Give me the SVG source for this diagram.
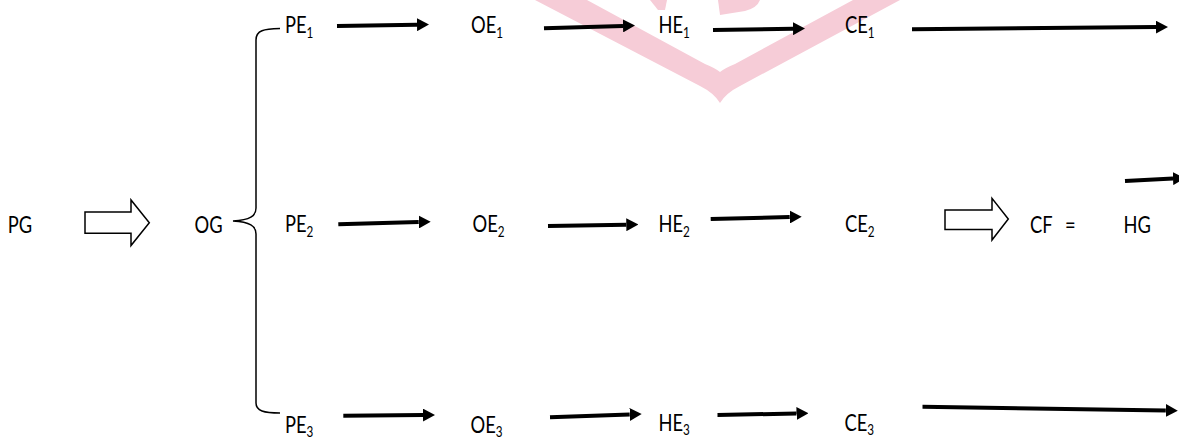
<svg xmlns="http://www.w3.org/2000/svg" width="1179" height="438" viewBox="0 0 1179 438">
<style>
.t{font-family:Lato,"Open Sans","Liberation Sans",sans-serif;font-size:23.5px;fill:#000}
.sub{font-size:15px}
.ln{stroke:#000;stroke-width:4;fill:none;marker-end:url(#ah)}
.hollow{fill:#fff;stroke:#000;stroke-width:1.5;stroke-linejoin:miter}
.brace{fill:none;stroke:#000;stroke-width:1.5}
.wm{fill:#F6CCD7}
</style>
<defs>
<marker id="ah" markerUnits="userSpaceOnUse" viewBox="0 0 12 13" markerWidth="12" markerHeight="13" refX="0" refY="6.5" orient="auto">
<path d="M0,0 L12,6.5 L0,13 Z" fill="#000"/>
</marker>
</defs>
<rect width="1179" height="438" fill="#fff"/>
<g id="watermark">
<path class="wm" d="M535,0 L700,86 Q714,93 720,103 Q726,93 740,86 L900,0 L853,0 L735,64 Q725,68 720,72 Q715,68 705,64 L587,0 Z"/>
<path class="wm" d="M650,0 L667,0 L665,10 L658,10 Z"/>
<path class="wm" d="M718,0 H760 Q757,8 745,11 L720,15 Z"/>
</g>
<g id="connectors">
<path class="ln" d="M337,26 L417,24.7"/>
<path class="ln" d="M544,28.3 L623,25.9"/>
<path class="ln" d="M713,30 L793,28.7"/>
<path class="ln" d="M912,29.3 L1156,27.1"/>
<path class="ln" d="M338.3,224.3 L418.7,222"/>
<path class="ln" d="M548,226 L626.3,224.7"/>
<path class="ln" d="M710.7,219 L789.7,217"/>
<path class="ln" d="M1125,181 L1173,178.6"/>
<path class="ln" d="M343.3,415.7 L423,415.1"/>
<path class="ln" d="M550,417.3 L629.7,414.4"/>
<path class="ln" d="M717.5,415 L796.5,413.5"/>
<path class="ln" d="M922.5,406.7 L1165.8,410.5"/>
<path class="hollow" d="M85,212 H131 V200 L149.3,222.7 L131,245.5 V233.3 H85 Z"/>
<path class="hollow" d="M945,210 H992 V198.3 L1008.3,219 L992,240 V229.5 H945 Z"/>
<path class="brace" d="M280,28.5 C264,29 256,30 256,40 V208 C256,216 250,220 233,221 C250,222 256,226 256,234 V403 C256,411 264,413 280,413"/>
</g>
<g id="PG"><text class="t" transform="translate(7.8,233) scale(0.78,1)">PG</text></g>
<g id="OG"><text class="t" transform="translate(194.5,232.7) scale(0.78,1)">OG</text></g>
<g id="PE1"><text class="t" transform="translate(285,33) scale(0.78,1)">PE<tspan class="sub" dy="5">1</tspan></text></g>
<g id="OE1"><text class="t" transform="translate(471,33) scale(0.78,1)">OE<tspan class="sub" dy="5">1</tspan></text></g>
<g id="HE1"><text class="t" transform="translate(658.5,33) scale(0.78,1)">HE<tspan class="sub" dy="5">1</tspan></text></g>
<g id="CE1"><text class="t" transform="translate(845,33) scale(0.78,1)">CE<tspan class="sub" dy="5">1</tspan></text></g>
<g id="PE2"><text class="t" transform="translate(285,232) scale(0.78,1)">PE<tspan class="sub" dy="5">2</tspan></text></g>
<g id="OE2"><text class="t" transform="translate(472.5,232) scale(0.78,1)">OE<tspan class="sub" dy="5">2</tspan></text></g>
<g id="HE2"><text class="t" transform="translate(658.5,232) scale(0.78,1)">HE<tspan class="sub" dy="5">2</tspan></text></g>
<g id="CE2"><text class="t" transform="translate(845,232) scale(0.78,1)">CE<tspan class="sub" dy="5">2</tspan></text></g>
<g id="CF"><text class="t" transform="translate(1030,233) scale(0.78,1)">CF</text></g>
<g id="EQ"><text class="t" transform="translate(1065,233) scale(0.78,1)">=</text></g>
<g id="HG"><text class="t" transform="translate(1123.5,233) scale(0.78,1)">HG</text></g>
<g id="PE3"><text class="t" transform="translate(285,433) scale(0.78,1)">PE<tspan class="sub" dy="4">3</tspan></text></g>
<g id="OE3"><text class="t" transform="translate(470.5,433) scale(0.78,1)">OE<tspan class="sub" dy="4">3</tspan></text></g>
<g id="HE3"><text class="t" transform="translate(658.5,431) scale(0.78,1)">HE<tspan class="sub" dy="4">3</tspan></text></g>
<g id="CE3"><text class="t" transform="translate(844.5,431) scale(0.78,1)">CE<tspan class="sub" dy="4">3</tspan></text></g>
</svg>
